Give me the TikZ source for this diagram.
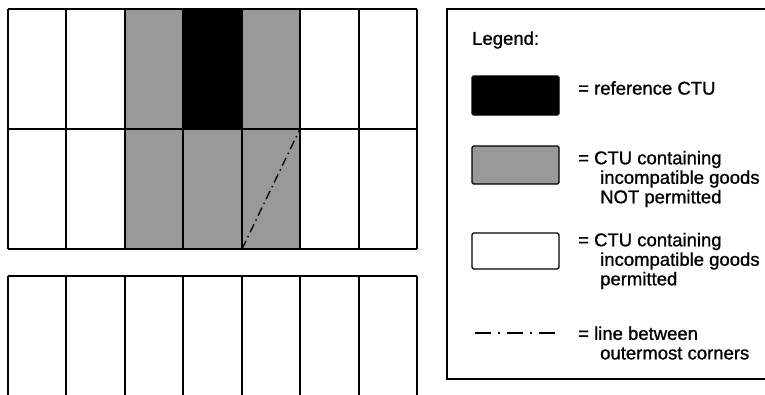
\documentclass[tikz,border=0pt]{standalone}
\usepackage{fontspec}
\setmainfont{Liberation Sans}[BoldFont=Liberation Sans, BoldFeatures={FakeBold=1}]
\usepackage{xcolor}
\usepackage{tikz}
\usetikzlibrary{positioning}
\definecolor{ctuGray}{RGB}{153,153,153}
\definecolor{ctuBlack}{RGB}{0,0,0}

\begin{document}
\begin{tikzpicture}[
    x=1pt, y=-1pt,
    font=\fontsize{18.5}{19.5}\selectfont\bfseries,
    cell/.style={draw=black, line width=2pt},
    key/.style={draw=black, line width=1.3pt, rounded corners=1.5pt,
                minimum width=87pt, minimum height=38pt, inner sep=0pt},
    txt/.style={anchor=west, align=left, inner sep=0pt},
    dashdot/.style={line width=1.3pt, dash pattern=on 9pt off 4pt on 1.5pt off 4pt},
    keydash/.style={line width=1.4pt, dash pattern=on 16pt off 7pt on 2pt off 7pt}
]
\useasboundingbox (0,0) rectangle (765,394);

% upper stack
\fill[ctuGray]  (125,9) rectangle (300,249);
\fill[ctuBlack] (183,9) rectangle (242,129);
\foreach \x in {8,66,125,183,242,300,359,417}
  \draw[cell] (\x,9) -- (\x,249);
\foreach \y in {9,129,249}
  \draw[cell] (8,\y) -- (417,\y);

\coordinate (cornerA) at (242,249);
\coordinate (cornerB) at (300,129);
\draw[dashdot] (cornerA) -- (cornerB);

% lower stack
\draw[cell] (8,276) -- (417,276);
\foreach \x in {8,66,125,183,242,300,359,417}
  \draw[cell] (\x,276) -- (\x,400);

% legend
\draw[line width=1.5pt] (770,9) -- (447,9) -- (447,379) -- (770,379);
\node[txt] (legTitle) at (472,40) {Legend:};

\node[key, fill=ctuBlack, minimum height=39pt] (keyRef) at (515.5,95.5) {};
\node[key, fill=ctuGray] (keyNo) at (515.5,165) {};
\node[key, fill=white, minimum height=36pt] (keyOk) at (515.5,251) {};
\coordinate (dashL) at (475,333);
\coordinate (dashR) at (558,333);
\draw[keydash] (dashL) -- (dashR);

\node[txt] (txtRef) at (578,88) {= reference CTU};
\node[txt] (txtNo) at (578,179)
  {= CTU containing\\\hspace*{22pt}incompatible goods\\\hspace*{22pt}NOT permitted};
\node[txt] (txtOk) at (578,261)
  {= CTU containing\\\hspace*{22pt}incompatible goods\\\hspace*{22pt}permitted};
\node[txt] (txtLine) at (578,343)
  {= line between\\\hspace*{22pt}outermost corners};
\end{tikzpicture}
\end{document}
